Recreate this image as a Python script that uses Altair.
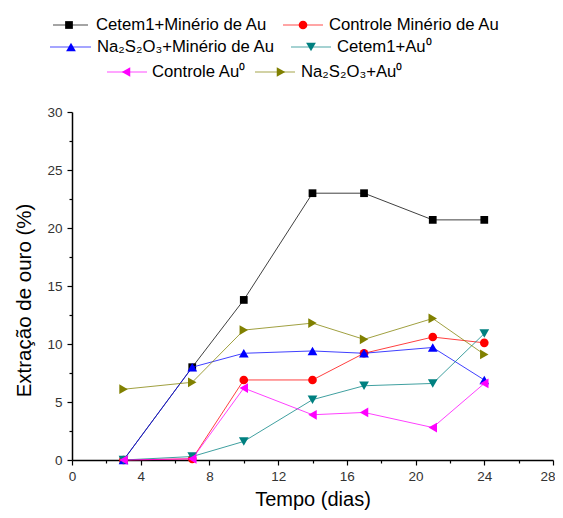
import altair as alt
import pandas as pd

# ---- data ----
days = [3, 7, 10, 14, 17, 21, 24]
series_names = [
    "Cetem1+Minério de Au",
    "Controle Minério de Au",
    "Na₂S₂O₃+Minério de Au",
    "Cetem1+Au⁰",
    "Controle Au⁰",
    "Na₂S₂O₃+Au⁰",
]
cetem1_minerio = [0.0, 8.0, 13.8, 23.0, 23.0, 20.7, 20.7]
controle_minerio = [0.0, 0.1, 6.9, 6.9, 9.2, 10.6, 10.1]
na2s2o3_minerio = [0.0, 8.0, 9.2, 9.4, 9.2, 9.7, 6.9]
cetem1_au0 = [0.0, 0.3, 1.6, 5.2, 6.4, 6.6, 10.9]
controle_au0 = [0.0, 0.1, 6.2, 3.9, 4.1, 2.8, 6.6]
na2s2o3_au0 = [6.1, 6.7, 11.2, 11.8, 10.4, 12.2, 9.1]
all_values = [cetem1_minerio, controle_minerio, na2s2o3_minerio,
              cetem1_au0, controle_au0, na2s2o3_au0]

# ---- styles ----
colors = ["#000000", "#ff0000", "#0000ff", "#008080", "#ff00ff", "#808000"]
shapes = ["square", "circle", "triangle-up", "triangle-down", "triangle-left", "triangle-right"]
sizes = [60, 75, 95, 95, 95, 95]
FONT = "Liberation Sans"

rows = []
for i, (name, vals) in enumerate(zip(series_names, all_values)):
    for d, v in zip(days, vals):
        rows.append({"serie": name, "ordem": i, "dia": d, "valor": v})
df = pd.DataFrame(rows)

# legend layout (pixel offsets relative to plot area)
leg_line_x1 = [-19, 211, -22, 219, 35, 183]
leg_line_x2 = [16, 251, 19, 259, 75, 223]
leg_mark_x = [-3, 231, -1, 239, 54, 209]
leg_text_x = [24, 257, 25, 265, 80, 229]
leg_y = [-87, -87, -65, -65, -40, -40]

x_axis = alt.Axis(
    orient="bottom",
    values=list(range(0, 29, 2)),
    labelExpr="datum.value % 4 == 0 ? datum.label : ''",
    tickSize={"condition": {"test": "datum.value % 4 == 0", "value": 5}, "value": 3},
    labelAlign={"condition": {"test": "datum.value == 28", "value": "right"}, "value": "center"},
    labelOffset={"condition": {"test": "datum.value == 28", "value": 2}, "value": 0},
    labelFlush=False,
    title="Tempo (dias)", grid=False, domainColor="black", domainWidth=1.5,
    tickColor="black", tickWidth=1.2, labelFont=FONT, labelFontSize=13.5,
    labelColor="#333333", titleFont=FONT, titleFontSize=20, titleFontWeight="normal",
    titleColor="black", titlePadding=7, labelPadding=4, labelOverlap=False,
)
y_axis = alt.Axis(
    orient="left",
    values=[i * 2.5 for i in range(13)],
    labelExpr="datum.value % 5 == 0 ? datum.label : ''",
    tickSize={"condition": {"test": "datum.value % 5 == 0", "value": 5}, "value": 3},
    title="Extração de ouro (%)", grid=False, domainColor="black", domainWidth=1.5,
    tickColor="black", tickWidth=1.2, labelFont=FONT, labelFontSize=13.5,
    labelColor="#333333", titleFont=FONT, titleFontSize=20.5, titleFontWeight="normal",
    titleColor="black", titlePadding=12, labelPadding=5, titleY=188,
)

X = alt.X("dia:Q", scale=alt.Scale(domain=[0, 28], nice=False), axis=x_axis)
Y = alt.Y("valor:Q", scale=alt.Scale(domain=[0, 30], nice=False), axis=y_axis)

layers = []
for i, name in enumerate(series_names):
    sub = df[df["serie"] == name]
    base = alt.Chart(sub)
    line = base.mark_line(strokeWidth=1, color=colors[i], opacity=0.75).encode(x=X, y=Y)
    pts = base.mark_point(filled=True, opacity=1, shape=shapes[i], size=sizes[i],
                          color=colors[i]).encode(x=X, y=Y)
    layers += [line, pts]

# hand-built legend (Origin style: line + marker + label)
for i, name in enumerate(series_names):
    lab = alt.Chart(pd.DataFrame({"label": [name]}))
    layers.append(lab.mark_rule(strokeWidth=1.2, opacity=0.7, color=colors[i]).encode(
        x=alt.value(leg_line_x1[i]), x2=alt.value(leg_line_x2[i]), y=alt.value(leg_y[i])))
    layers.append(lab.mark_point(filled=True, opacity=1, shape=shapes[i], size=sizes[i],
                                 color=colors[i]).encode(
        x=alt.value(leg_mark_x[i]), y=alt.value(leg_y[i])))
    layers.append(lab.mark_text(align="left", baseline="middle", font=FONT, fontSize=16.7,
                                color="black").encode(
        x=alt.value(leg_text_x[i]), y=alt.value(leg_y[i]), text="label:N"))

chart = alt.layer(*layers).properties(
    width=481, height=348,
    background="white",
    autosize=alt.AutoSizeParams(type="none"),
    padding={"left": 64, "top": 104, "right": 2, "bottom": 50},
).configure_view(strokeWidth=0, stroke="transparent")

chart.save("out.html", embed_options={"renderer": "svg", "actions": False})
